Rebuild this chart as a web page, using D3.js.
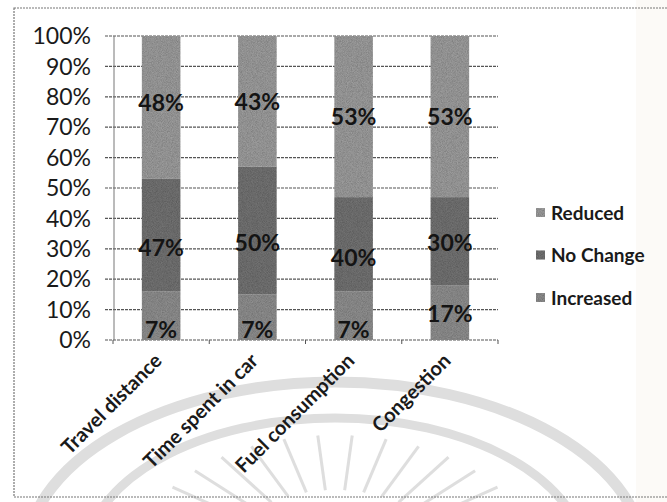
<!DOCTYPE html>
<html>
<head>
<meta charset="utf-8">
<script src="https://cdn.jsdelivr.net/npm/d3@7"></script>
<style>
  body { margin: 0; background: #fff; }
  svg { display: block; font-family: Lato, "Open Sans", sans-serif; }
</style>
</head>
<body>
<div id="chart"></div>
<script>
const width = 667;
const height = 502;

// categories and series
const categories = ["Travel distance", "Time spent in car", "Fuel consumption", "Congestion"];
const seriesNames = ["Increased", "No Change", "Reduced"];

// segment heights as they appear in the scanned bars (%)
const increased = [16, 15, 16, 18];
const noChange = [37, 42, 31, 29];
const reduced = [47, 43, 53, 53];

// printed data labels (%)
const increasedLabels = [7, 7, 7, 17];
const noChangeLabels = [47, 50, 40, 30];
const reducedLabels = [48, 43, 53, 53];

const yTicks = [0, 10, 20, 30, 40, 50, 60, 70, 80, 90, 100];
const colors = ["#959595", "#787878", "#a4a4a4"];

const svg = d3.select("#chart")
  .append("svg")
  .attr("width", width)
  .attr("height", height);

// scanner texture
const defs = svg.append("defs");
const grain = defs.append("filter").attr("id", "grain");
grain.append("feTurbulence")
  .attr("type", "fractalNoise")
  .attr("baseFrequency", 1.2)
  .attr("numOctaves", 1)
  .attr("result", "noise");
grain.append("feColorMatrix")
  .attr("in", "noise")
  .attr("type", "matrix")
  .attr("values", "0 0 0 0 0  0 0 0 0 0  0 0 0 0 0  0 0 0 0.6 -0.05")
  .attr("result", "dots");
grain.append("feComposite").attr("in", "dots").attr("in2", "SourceGraphic").attr("operator", "in").attr("result", "d2");
grain.append("feMerge").selectAll("feMergeNode")
  .data(["SourceGraphic", "d2"])
  .join("feMergeNode")
  .attr("in", d => d);

// page tint on the right edge
svg.append("rect").attr("x", 636).attr("y", 0).attr("width", 31).attr("height", height).attr("fill", "#fcfaf7");

// watermark arcs (background of the scan)
const wm = svg.append("g").attr("fill", "none").attr("stroke", "#dedede");
wm.append("ellipse").attr("cx", 335).attr("cy", 560).attr("rx", 310).attr("ry", 178).attr("stroke-width", 11);
wm.append("ellipse").attr("cx", 335).attr("cy", 560).attr("rx", 250).attr("ry", 142).attr("stroke-width", 9);
d3.range(14).forEach(i => {
  const a = Math.PI + 0.45 + i * (Math.PI - 0.9) / 13;
  const r1 = 70, r2 = 125;
  wm.append("line")
    .attr("x1", 335 + Math.cos(a) * r1 * 1.6).attr("y1", 560 + Math.sin(a) * r1)
    .attr("x2", 335 + Math.cos(a) * r2 * 1.6).attr("y2", 560 + Math.sin(a) * r2)
    .attr("stroke-width", 3);
});

// outer frame
svg.append("rect")
  .attr("x", 14).attr("y", 8)
  .attr("width", 700).attr("height", 489)
  .attr("fill", "none")
  .attr("stroke", "#777")
  .attr("stroke-width", 1.2)
  .attr("stroke-dasharray", "2,1");

const x = d3.scaleBand()
  .domain(categories)
  .range([113, 498])
  .paddingInner(0.6)
  .paddingOuter(0.3);

const y = d3.scaleLinear()
  .domain([0, 100])
  .range([340, 36]);

// gridlines
svg.append("g")
  .selectAll("line")
  .data(yTicks)
  .join("line")
  .attr("x1", 105)
  .attr("x2", 498)
  .attr("y1", d => y(d))
  .attr("y2", d => y(d))
  .attr("stroke", "#555")
  .attr("stroke-width", 1.2)
  .attr("stroke-dasharray", "3,1");

// y tick labels
svg.append("g")
  .selectAll("text")
  .data(yTicks)
  .join("text")
  .attr("x", 91)
  .attr("y", d => y(d))
  .attr("dy", "0.36em")
  .attr("text-anchor", "end")
  .attr("font-size", 23)
  .attr("fill", "#1a1a1a")
  .text(d => d + "%");

// y axis line
svg.append("line")
  .attr("x1", 114).attr("x2", 114)
  .attr("y1", y(100)).attr("y2", y(0))
  .attr("stroke", "#777").attr("stroke-width", 1);

// stacked bars
const rows = categories.map((c, i) => ({
  cat: c,
  "Increased": increased[i],
  "No Change": noChange[i],
  "Reduced": reduced[i]
}));
const stacked = d3.stack().keys(seriesNames)(rows);

svg.append("g")
  .attr("filter", "url(#grain)")
  .selectAll("g")
  .data(stacked)
  .join("g")
  .attr("fill", (d, i) => colors[i])
  .selectAll("rect")
  .data(d => d)
  .join("rect")
  .attr("x", d => x(d.data.cat))
  .attr("width", x.bandwidth())
  .attr("y", d => y(d[1]))
  .attr("height", d => y(d[0]) - y(d[1]));

// x axis ticks at category boundaries
const edges = categories.map((c, i) => 113 + i * x.step()).concat([498]);
svg.append("g")
  .selectAll("line")
  .data(edges)
  .join("line")
  .attr("x1", d => d).attr("x2", d => d)
  .attr("y1", y(0)).attr("y2", y(0) + 4)
  .attr("stroke", "#555");

// data labels, placed at the middle of each printed value
const labelRows = categories.map((c, i) => ({
  cat: c,
  "Increased": increasedLabels[i],
  "No Change": noChangeLabels[i],
  "Reduced": reducedLabels[i]
}));
const labelStack = d3.stack().keys(seriesNames)(labelRows);

svg.append("g")
  .selectAll("g")
  .data(labelStack)
  .join("g")
  .selectAll("text")
  .data(d => d)
  .join("text")
  .attr("x", d => x(d.data.cat) + x.bandwidth() / 2)
  .attr("y", d => y((d[0] + d[1]) / 2))
  .attr("dy", "0.36em")
  .attr("text-anchor", "middle")
  .attr("font-size", 23)
  .attr("font-weight", "bold")
  .attr("fill", "#141414")
  .text(d => (d[1] - d[0]) + "%");

// rotated category labels
svg.append("g")
  .selectAll("text")
  .data(categories)
  .join("text")
  .attr("transform", d => `translate(${x(d) + x.bandwidth() / 2 + 2},${y(0) + 22}) rotate(-45)`)
  .attr("text-anchor", "end")
  .attr("font-size", 20)
  .attr("font-weight", "bold")
  .attr("fill", "#1a1a1a")
  .text(d => d);

// legend, top entry first
const legendItems = seriesNames.slice().reverse();
const legend = svg.append("g")
  .selectAll("g")
  .data(legendItems)
  .join("g")
  .attr("transform", (d, i) => `translate(536,${213 + i * 42.5})`);

legend.append("rect")
  .attr("x", 0).attr("y", -5)
  .attr("width", 9).attr("height", 9)
  .attr("fill", d => colors[seriesNames.indexOf(d)])
  .attr("filter", "url(#grain)");

legend.append("text")
  .attr("x", 15)
  .attr("dy", "0.36em")
  .attr("font-size", 19)
  .attr("font-weight", "bold")
  .attr("fill", "#1a1a1a")
  .text(d => d);
</script>
</body>
</html>
